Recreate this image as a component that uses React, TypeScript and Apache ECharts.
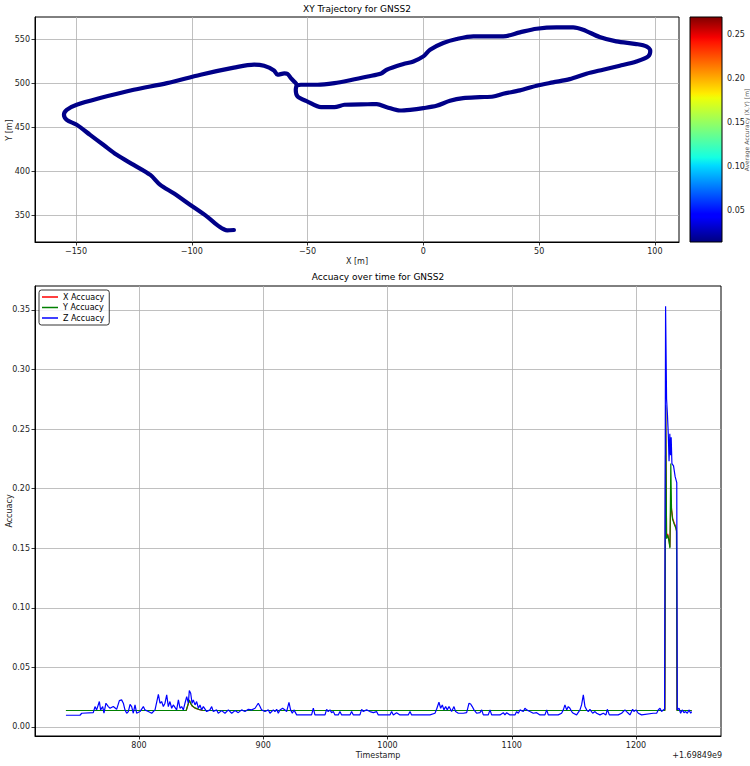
import React, { useEffect, useRef } from 'react';
import * as echarts from 'echarts';

// ---------- Trajectory (XY) ----------
const trajX = [
  -81.8, -84.7, -88.0, -93.4, -100.6, -107.8, -113.6, -117.9, -125.1, -132.4, -138.2, -143.9, -149.7, -154.0,
  -155.2, -154.0, -149.7, -139.6, -125.1, -110.7, -96.2, -81.8, -73.1, -68.8, -64.5, -63.0, -60.0, -58.7,
  -57.2, -55.1, -54.3, -52.9, -45.7, -38.4, -31.2, -24.0, -18.2, -15.8, -8.6, -4.3, 0.0, 2.9, 8.6, 14.4,
  21.6, 27.3, 34.5, 41.7, 48.9, 57.5, 64.7, 69.0, 76.1, 83.3, 92.0, 96.3, 98.0, 97.1, 92.0, 84.8, 77.6,
  70.4, 63.2, 56.0, 48.9, 41.7, 34.5, 30.2, 24.4, 17.2, 11.5, 5.7, 0.0, -5.7, -10.1, -15.8, -20.1, -24.0,
  -34.1, -38.4, -44.2, -50.0, -54.3, -55.1, -54.8,
];
const trajY = [
  333.3, 333.0, 337.0, 348.5, 361.7, 375.0, 384.5, 395.8, 407.2, 418.6, 430.0, 441.3, 452.7, 458.3,
  464.0, 469.7, 475.4, 483.0, 492.4, 500.0, 509.5, 517.5, 521.0, 519.7, 514.4, 509.5, 511.0, 510.6,
  505.7, 500.0, 497.5, 498.1, 498.1, 500.0, 503.5, 507.5, 511.0, 515.2, 521.6, 524.6, 530.3, 537.9, 545.5, 550.0,
  553.0, 553.0, 553.0, 557.6, 561.7, 563.3, 563.3, 560.6, 552.3, 547.3, 544.3, 541.7, 536.7, 530.3, 524.6, 519.7, 515.2,
  510.6, 504.5, 500.8, 497.0, 491.7, 487.9, 484.8, 484.1, 483.0, 479.9, 474.2, 471.6, 469.7, 468.9, 472.7, 476.1, 476.0,
  475.4, 472.7, 472.7, 479.0, 484.8, 492.4, 497.0,
];
const trajXTicks = [-150, -100, -50, 0, 50, 100];
const trajYTicks = [350, 400, 450, 500, 550];
const colorbarTicks = [0.05, 0.1, 0.15, 0.2, 0.25];

// ---------- Accuracy over time (timestamp offset from 1.69849e9) ----------
const zTime = [
  741.2, 752.5, 753.9, 763.2, 764.6, 765.9, 768.1, 769.1, 770.8, 771.8, 773.4, 775.3, 776.7, 779.3, 782.0, 784.2, 786.0,
  787.4, 788.7, 790.1, 791.4, 792.8, 794.1, 795.4, 796.8, 798.1, 800.8, 803.5, 804.8, 807.5, 810.2, 812.9, 815.6, 816.9,
  818.2, 819.6, 820.9, 822.3, 823.6, 824.9, 826.3, 827.6, 830.3, 831.7, 833.0, 834.3, 835.7, 837.0, 838.4, 839.7, 840.5,
  841.6, 842.7, 843.7, 845.1, 846.4, 847.8, 849.1, 850.4, 851.8, 854.5, 857.1, 858.5, 859.8, 862.5, 863.8, 866.5, 869.2,
  871.9, 874.6, 877.3, 879.9, 882.6, 885.3, 888.0, 890.7, 893.4, 896.0, 897.4, 898.7, 901.4, 904.1, 905.4, 908.1, 909.4,
  910.8, 912.1, 913.4, 915.6, 917.5, 918.8, 920.7, 922.0, 923.4, 924.7, 926.9, 938.9, 940.3, 941.6, 949.7, 951.0, 952.3,
  953.7, 955.0, 956.4, 957.7, 960.4, 961.7, 963.1, 969.8, 971.1, 972.5, 977.8, 979.2, 980.5, 983.2, 985.9, 988.6, 991.2,
  992.6, 1002.0, 1003.3, 1004.7, 1007.3, 1010.0, 1016.7, 1018.1, 1019.4, 1034.2, 1038.2, 1039.5, 1041.4, 1042.8, 1044.1,
  1045.4, 1046.8, 1048.1, 1049.5, 1051.6, 1053.5, 1054.8, 1057.0, 1061.0, 1063.7, 1065.6, 1066.9, 1068.2, 1069.6, 1071.7,
  1074.4, 1075.8, 1077.1, 1081.1, 1082.5, 1083.8, 1090.5, 1093.2, 1094.5, 1095.9, 1098.5, 1102.6, 1103.9, 1105.3, 1106.6,
  1109.3, 1110.6, 1112.0, 1114.6, 1117.3, 1120.0, 1122.7, 1126.7, 1128.1, 1129.4, 1137.4, 1140.1, 1141.5, 1142.8, 1144.2,
  1145.5, 1146.8, 1148.2, 1149.5, 1152.2, 1154.9, 1156.2, 1157.6, 1158.9, 1160.3, 1161.6, 1162.9, 1165.1, 1167.0, 1168.3,
  1171.0, 1173.7, 1175.8, 1176.9, 1178.5, 1185.7, 1188.4, 1191.1, 1192.4, 1193.8, 1195.1, 1197.3, 1198.3, 1200.0, 1201.8,
  1204.5, 1213.9, 1216.6, 1217.9, 1219.3, 1220.6, 1221.9, 1223.0, 1223.8, 1224.6, 1225.3, 1226.0, 1226.6, 1227.2, 1227.8,
  1228.3, 1228.9, 1230.2, 1231.5, 1232.8, 1233.2, 1234.6, 1235.9, 1237.2, 1238.6, 1239.9, 1241.3, 1242.6, 1244.0, 1244.8,
];
const zAcc = [
  0.0098, 0.0098, 0.0115, 0.012, 0.0171, 0.0143, 0.0213, 0.0143, 0.0171, 0.0115, 0.0199, 0.0171, 0.0157, 0.0171, 0.0148, 0.0221, 0.0227,
  0.0199, 0.0143, 0.0115, 0.0129, 0.019, 0.0171, 0.0115, 0.0185, 0.0115, 0.0129, 0.0171, 0.0143, 0.0129, 0.0115, 0.0143, 0.0274, 0.0199,
  0.0213, 0.0171, 0.0199, 0.0269, 0.0171, 0.0213, 0.0157, 0.0185, 0.0143, 0.0227, 0.0157, 0.0171, 0.0143, 0.0199, 0.0255, 0.0199, 0.0305,
  0.0283, 0.0199, 0.0227, 0.0185, 0.0213, 0.0157, 0.0185, 0.0143, 0.0171, 0.0129, 0.0143, 0.0171, 0.0129, 0.0143, 0.0115, 0.0137, 0.0115,
  0.0143, 0.0115, 0.0137, 0.012, 0.0143, 0.0129, 0.0148, 0.0143, 0.0157, 0.0199, 0.0171, 0.0143, 0.0129, 0.0143, 0.0115, 0.0143, 0.0129,
  0.0148, 0.0115, 0.0143, 0.0157, 0.0143, 0.0129, 0.0207, 0.0143, 0.0115, 0.0143, 0.0101, 0.0101, 0.0157, 0.0101, 0.0101, 0.0148, 0.0129,
  0.0143, 0.012, 0.0129, 0.0101, 0.0101, 0.0129, 0.0101, 0.0101, 0.0129, 0.0101, 0.0101, 0.0148, 0.0129, 0.0143, 0.0129, 0.012, 0.0129,
  0.0101, 0.0101, 0.0129, 0.0101, 0.012, 0.0101, 0.0101, 0.0129, 0.0101, 0.0101, 0.0115, 0.0148, 0.0207, 0.0157, 0.0185,
  0.0143, 0.0171, 0.0143, 0.0171, 0.0129, 0.0171, 0.0129, 0.0115, 0.0115, 0.012, 0.0199, 0.0193, 0.0171, 0.0143, 0.0115,
  0.012, 0.0143, 0.0101, 0.0101, 0.0143, 0.0101, 0.0101, 0.012, 0.0101, 0.012, 0.0101, 0.0101, 0.0129, 0.0115, 0.0143,
  0.0129, 0.0157, 0.0143, 0.0129, 0.0115, 0.012, 0.0101, 0.0101, 0.0143, 0.0101, 0.0101, 0.0115, 0.0143, 0.0185, 0.0143,
  0.0171, 0.0157, 0.0129, 0.0115, 0.0101, 0.0143, 0.0185, 0.0269, 0.0171, 0.0143, 0.0129, 0.0148, 0.0115, 0.0129, 0.0115,
  0.0101, 0.0115, 0.0101, 0.0148, 0.0101, 0.0101, 0.0115, 0.0143, 0.0129, 0.0115, 0.0101, 0.0148, 0.0129, 0.0143, 0.0115,
  0.0101, 0.0115, 0.0115, 0.0143, 0.0157, 0.0129, 0.0143, 0.015, 0.353, 0.275, 0.262, 0.245, 0.223, 0.246, 0.228,
  0.243, 0.221, 0.219, 0.21, 0.205, 0.0143, 0.0157, 0.0115, 0.0143, 0.012, 0.0129, 0.0115, 0.0143, 0.0115, 0.0129,
];
const xyTime = [
  741.2, 838.0, 839.5, 840.5, 841.5, 843.0, 845.0, 848.0, 851.0, 853.0, 1223.2, 1223.9, 1224.6, 1225.5, 1226.5, 1227.3,
  1228.0, 1228.6, 1229.5, 1230.8, 1232.0, 1232.6, 1233.0, 1244.8,
];
const yAcc = [
  0.0138, 0.0138, 0.019, 0.0227, 0.02, 0.0175, 0.016, 0.0148, 0.014, 0.0138, 0.0138, 0.27, 0.158, 0.161, 0.156, 0.15,
  0.221, 0.182, 0.174, 0.17, 0.167, 0.164, 0.0138, 0.0138,
];
const xAcc = [
  0.0138, 0.0138, 0.0188, 0.0225, 0.0198, 0.0173, 0.0158, 0.0147, 0.0139, 0.0138, 0.0138, 0.268, 0.16, 0.162, 0.157, 0.151,
  0.19, 0.183, 0.175, 0.171, 0.168, 0.165, 0.0138, 0.0138,
];
const timeTicks = [800, 900, 1000, 1100, 1200];
const accTicks = [0, 0.05, 0.1, 0.15, 0.2, 0.25, 0.3, 0.35];

const FONT = 'DejaVu Sans';
const zip = (a: number[], b: number[]) => a.map((v, i) => [v, b[i]]);
const minus = (v: number) => (v < 0 ? '\u2212' + Math.abs(v) : String(v));

const jetStops = [
  { offset: 0, color: '#000080' },
  { offset: 0.11, color: '#0000ff' },
  { offset: 0.125, color: '#0000ff' },
  { offset: 0.34, color: '#00dbff' },
  { offset: 0.375, color: '#14ffe3' },
  { offset: 0.5, color: '#7bff7b' },
  { offset: 0.64, color: '#eeff08' },
  { offset: 0.66, color: '#ffec00' },
  { offset: 0.89, color: '#ff1300' },
  { offset: 0.91, color: '#f60000' },
  { offset: 1, color: '#800000' },
];

const axisCommon = (ticks: number[], fmt: (v: number) => string) => ({
  type: 'value' as const,
  axisLine: { show: true, onZero: false, lineStyle: { color: '#000', width: 1 } },
  axisTick: { show: true, length: 3.5, customValues: ticks, lineStyle: { color: '#000', width: 0.8 } },
  axisLabel: { customValues: ticks, formatter: fmt, fontSize: 8, fontFamily: FONT, color: '#222', margin: 5 },
  splitLine: { show: true, lineStyle: { color: '#b0b0b0', width: 0.8 } },
  nameTextStyle: { fontSize: 8, fontFamily: FONT, color: '#222' },
  nameMoveOverlap: false,
});

const centerText = (text: string, x: number, y: number, size: number, fill: string, rotation = 0, align = 'center') => ({
  type: 'text', x, y, rotation,
  style: { text, fontSize: size, fontFamily: FONT, fill, align, verticalAlign: 'middle', textAlign: align, textVerticalAlign: 'middle' },
});

export default function App() {
  const ref = useRef<HTMLDivElement>(null);
  useEffect(() => {
    if (!ref.current) return;
    const chart = echarts.init(ref.current, null, { renderer: 'svg', width: 750, height: 766 });
    const gridBase = { outerBoundsMode: 'none', containLabel: false };
    const option: any = {
      animation: false,
      backgroundColor: '#fff',
      grid: [
        { ...gridBase, left: 35, top: 17, width: 644, height: 225, show: true, borderColor: '#000', borderWidth: 1 },
        { ...gridBase, left: 690, top: 17, width: 32, height: 225, show: false },
        { ...gridBase, left: 35, top: 286, width: 686, height: 450, show: true, borderColor: '#000', borderWidth: 1 },
      ],
      xAxis: [
        {
          ...axisCommon(trajXTicks, (v: number) => minus(v)),
          gridIndex: 0, min: -167.7, max: 110.4,
          name: 'X [m]', nameLocation: 'middle', nameGap: 15,
        },
        { type: 'value', gridIndex: 1, min: 0, max: 1, show: false },
        {
          ...axisCommon(timeTicks, (v: number) => String(v)),
          gridIndex: 2, min: 716.3, max: 1268.4,
          name: 'Timestamp', nameLocation: 'middle', nameGap: 15,
        },
      ],
      yAxis: [
        {
          ...axisCommon(trajYTicks, (v: number) => String(v)),
          gridIndex: 0, min: 319.7, max: 575,
        },
        {
          ...axisCommon(colorbarTicks, (v: number) => v.toFixed(2)),
          gridIndex: 1, min: 0.0144, max: 0.27, position: 'right',
          axisLine: { show: false },
          splitLine: { show: false },
        },
        {
          ...axisCommon(accTicks, (v: number) => v.toFixed(2)),
          gridIndex: 2, min: -0.0076, max: 0.37,
        },
      ],
      legend: {
        data: ['X Accuacy', 'Y Accuacy', 'Z Accuacy'],
        left: 39, top: 290, orient: 'vertical',
        icon: 'rect', itemWidth: 16, itemHeight: 1.5, itemGap: 2.5,
        padding: [3, 5, 3, 3],
        borderColor: '#000', borderWidth: 0.8, borderRadius: 2.5,
        backgroundColor: 'rgba(255,255,255,0.8)',
        textStyle: { fontSize: 8, fontFamily: FONT, color: '#000' },
      },
      series: [
        {
          type: 'line', xAxisIndex: 0, yAxisIndex: 0,
          data: zip(trajX, trajY), symbol: 'none', smooth: 0.3,
          lineStyle: { color: '#000088', width: 4.2, cap: 'round', join: 'round' },
        },
        {
          name: 'X Accuacy', type: 'line', xAxisIndex: 2, yAxisIndex: 2, color: '#ff0000',
          data: zip(xyTime, xAcc), symbol: 'none', lineStyle: { color: '#ff0000', width: 1.2 },
        },
        {
          name: 'Y Accuacy', type: 'line', xAxisIndex: 2, yAxisIndex: 2, color: '#008000',
          data: zip(xyTime, yAcc), symbol: 'none', lineStyle: { color: '#008000', width: 1.2 },
        },
        {
          name: 'Z Accuacy', type: 'line', xAxisIndex: 2, yAxisIndex: 2, color: '#0000ff',
          data: zip(zTime, zAcc), symbol: 'none', lineStyle: { color: '#0000ff', width: 1.2 },
        },
      ],
      graphic: [
        {
          type: 'rect', z: 5,
          shape: { x: 690, y: 17, width: 32, height: 225 },
          style: {
            fill: { type: 'linear', x: 0, y: 1, x2: 0, y2: 0, colorStops: jetStops },
            stroke: '#000', lineWidth: 1,
          },
        },
        centerText('XY Trajectory for GNSS2', 357, 9, 9, '#000'),
        centerText('Accuacy over time for GNSS2', 378, 277, 9, '#000'),
        centerText('+1.69849e9', 722, 755, 8, '#222', 0, 'right'),
        centerText('Y [m]', 9, 130, 8, '#222', Math.PI / 2),
        centerText('Accuacy', 9, 511, 8, '#222', Math.PI / 2),
        centerText('Average Accuracy (X,Y) [m]', 746.5, 130, 6, '#555', Math.PI / 2),
      ],
    };
    chart.setOption(option);
    return () => chart.dispose();
  }, []);
  return <div ref={ref} style={{ position: 'fixed', left: 0, top: 0, width: 750, height: 766 }} />;
}
